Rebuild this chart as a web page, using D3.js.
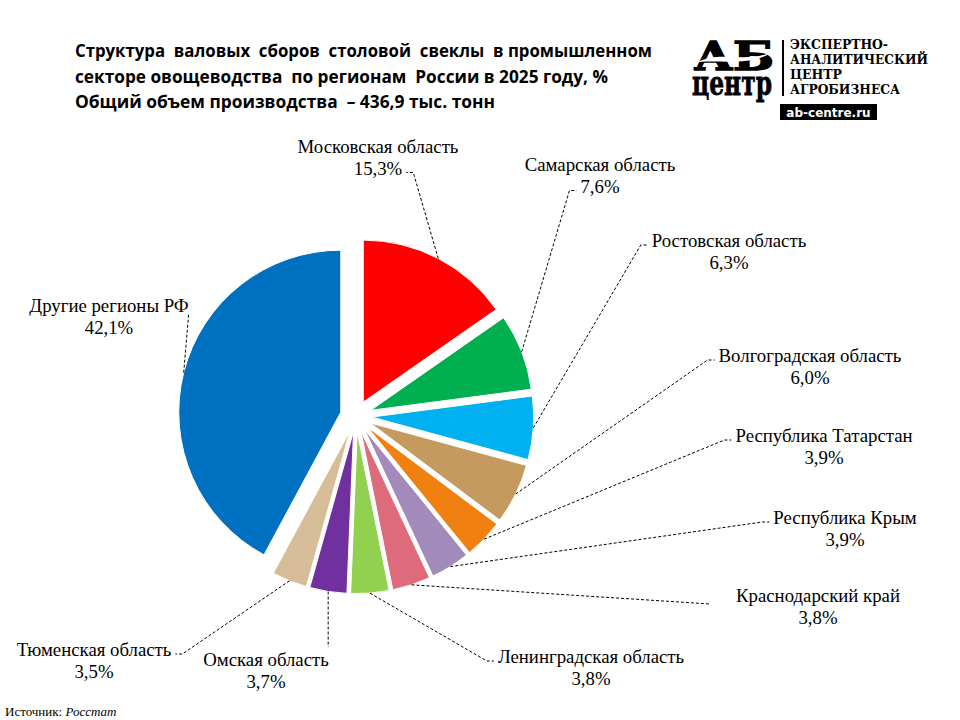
<!DOCTYPE html>
<html>
<head>
<meta charset="utf-8">
<script src="https://cdn.jsdelivr.net/npm/d3@7"></script>
<style>
  body { margin: 0; background: #fff; }
  svg { display: block; }
</style>
</head>
<body>
<div id="chart"></div>
<script>
// Data
const regions = [
  "Московская область", "Самарская область", "Ростовская область",
  "Волгоградская область", "Республика Татарстан", "Республика Крым",
  "Краснодарский край", "Ленинградская область", "Омская область",
  "Тюменская область", "Другие регионы РФ"
];
const shares = [15.3, 7.6, 6.3, 6.0, 3.9, 3.9, 3.8, 3.8, 3.7, 3.5, 42.1];
const colors = [
  "#ff0000", "#00b050", "#00b0f0", "#c49a5e", "#f08010", "#a28bbb",
  "#de6b7b", "#92d050", "#7030a0", "#d6bd97", "#0070c0"
];
const titleLines = [
  "Структура  валовых  сборов  столовой  свеклы  в промышленном",
  "секторе овощеводства  по регионам  России в 2025 году, %",
  "Общий объем производства  – 436,9 тыс. тонн"
];

// Label layout: centre x, first baseline y, where the leader attaches
const labelLayout = [
  { x: 378, y: 153, side: "right", line: 2 },
  { x: 600, y: 171, side: "left", line: 2 },
  { x: 729, y: 247, side: "left", line: 1 },
  { x: 810, y: 362, side: "left", line: 1 },
  { x: 824, y: 442, side: "left", line: 1 },
  { x: 845, y: 524, side: "left", line: 1 },
  { x: 818, y: 602, side: "left", line: 1, gap: 26, hook: 0, dy: 4 },
  { x: 591, y: 663, side: "left", line: 1 },
  { x: 266, y: 666, side: "topright", line: 1 },
  { x: 94, y: 656, side: "right", line: 1 },
  { x: 109, y: 312, side: "bottomright", line: 1 }
];

const width = 960, height = 720;
const cx = 356, cy = 416, radius = 162, explode = 15.7;

const svg = d3.select("#chart").append("svg")
  .attr("width", width)
  .attr("height", height);

// Title
const title = svg.append("g")
  .attr("font-family", "'Open Sans', sans-serif")
  .attr("font-weight", "bold")
  .attr("font-size", 18)
  .attr("fill", "#000");
const titleWidths = [577, 533, 420];
titleLines.forEach((t, i) => {
  title.append("text")
    .attr("x", 75)
    .attr("y", 57 + i * 25.5)
    .attr("textLength", titleWidths[i])
    .attr("lengthAdjust", "spacingAndGlyphs")
    .style("white-space", "pre")
    .text(t);
});

// Logo
const logo = svg.append("g").attr("fill", "#000");
logo.append("text")
  .attr("x", 694).attr("y", 70)
  .attr("font-family", "'DejaVu Serif', serif")
  .attr("font-weight", "bold")
  .attr("font-size", 40)
  .attr("stroke", "#000")
  .attr("stroke-width", 1.5)
  .attr("textLength", 80)
  .attr("lengthAdjust", "spacingAndGlyphs")
  .text("АБ");
logo.append("path")
  .attr("d", "M698,62 C720,50 745,64 772,52 C752,66 724,60 698,62 Z")
  .attr("fill", "#fff");
logo.append("text")
  .attr("x", 692).attr("y", 95)
  .attr("font-family", "'DejaVu Serif', serif")
  .attr("font-weight", "bold")
  .attr("font-size", 34)
  .attr("stroke", "#000")
  .attr("stroke-width", 0.8)
  .attr("textLength", 80)
  .attr("lengthAdjust", "spacingAndGlyphs")
  .text("центр");
logo.append("rect")
  .attr("x", 782).attr("y", 40).attr("width", 2).attr("height", 56);
const logoLines = ["ЭКСПЕРТНО-", "АНАЛИТИЧЕСКИЙ", "ЦЕНТР", "АГРОБИЗНЕСА"];
const logoWidths = [98, 138, 52, 110];
logoLines.forEach((t, i) => {
  logo.append("text")
    .attr("x", 790).attr("y", 48.5 + i * 15)
    .attr("font-family", "'DejaVu Serif', serif")
    .attr("font-weight", "bold")
    .attr("font-size", 12)
    .attr("textLength", logoWidths[i])
    .attr("lengthAdjust", "spacingAndGlyphs")
    .text(t);
});
logo.append("rect")
  .attr("x", 780).attr("y", 104).attr("width", 97).attr("height", 16);
logo.append("text")
  .attr("x", 828.5).attr("y", 116.5)
  .attr("text-anchor", "middle")
  .attr("font-family", "'DejaVu Sans', sans-serif")
  .attr("font-weight", "bold")
  .attr("font-size", 12)
  .attr("fill", "#fff")
  .text("ab-centre.ru");

// Pie
const pie = d3.pie().sort(null).value(d => d)(shares);
const arc = d3.arc().innerRadius(0).outerRadius(radius);
const midAngle = d => (d.startAngle + d.endAngle) / 2;

const pieG = svg.append("g").attr("transform", `translate(${cx},${cy})`);
pieG.selectAll("path")
  .data(pie)
  .enter()
  .append("path")
  .attr("transform", d => {
    const a = midAngle(d);
    return `translate(${Math.sin(a) * explode},${-Math.cos(a) * explode})`;
  })
  .attr("d", arc)
  .attr("fill", (d, i) => colors[i])
  .attr("stroke", "#fff")
  .attr("stroke-width", 1);

// Labels
const labelG = svg.append("g")
  .attr("font-family", "'Liberation Serif', 'Times New Roman', serif")
  .attr("font-size", 18.8)
  .attr("fill", "#000");
const leaderG = svg.append("g")
  .attr("fill", "none")
  .attr("stroke", "#000")
  .attr("stroke-width", 1)
  .attr("stroke-dasharray", "3,2");

pie.forEach((d, i) => {
  const L = labelLayout[i];
  const text = labelG.append("text").attr("text-anchor", "middle");
  const t1 = text.append("tspan").attr("x", L.x).attr("y", L.y).text(regions[i]);
  const t2 = text.append("tspan").attr("x", L.x).attr("y", L.y + 21.5)
    .text(d3.format(".1f")(shares[i]).replace(".", ",") + "%");

  const row = L.line === 1 ? t1 : t2;
  const rowY = L.line === 1 ? L.y : L.y + 21.5;
  const w = row.node().getComputedTextLength();
  const gap = L.gap != null ? L.gap : 4;
  const hook = L.hook != null ? L.hook : 7;
  const dy = L.dy || 0;

  const a = midAngle(d);
  const r = radius + explode;
  const p0 = [cx + Math.sin(a) * r, cy - Math.cos(a) * r];

  let pts;
  if (L.side === "left") {
    const ax = L.x - w / 2 - gap, ay = rowY - 2 + dy;
    pts = [p0, [ax - hook, ay], [ax, ay]];
  } else if (L.side === "right") {
    const ax = L.x + w / 2 + gap, ay = rowY - 2 + dy;
    pts = [p0, [ax + hook, ay], [ax, ay]];
  } else if (L.side === "topright") {
    pts = [p0, [p0[0], rowY - 19]];
  } else {
    pts = [p0, [L.x + w / 2, rowY + 2]];
  }
  leaderG.append("path").attr("d", d3.line()(pts));
});

// Source
const src = svg.append("text")
  .attr("x", 5).attr("y", 716)
  .attr("font-family", "'Liberation Serif', serif")
  .attr("font-size", 13)
  .attr("fill", "#000");
src.append("tspan").text("Источник: ");
src.append("tspan").attr("font-style", "italic").text(" Росстат");
</script>
</body>
</html>
